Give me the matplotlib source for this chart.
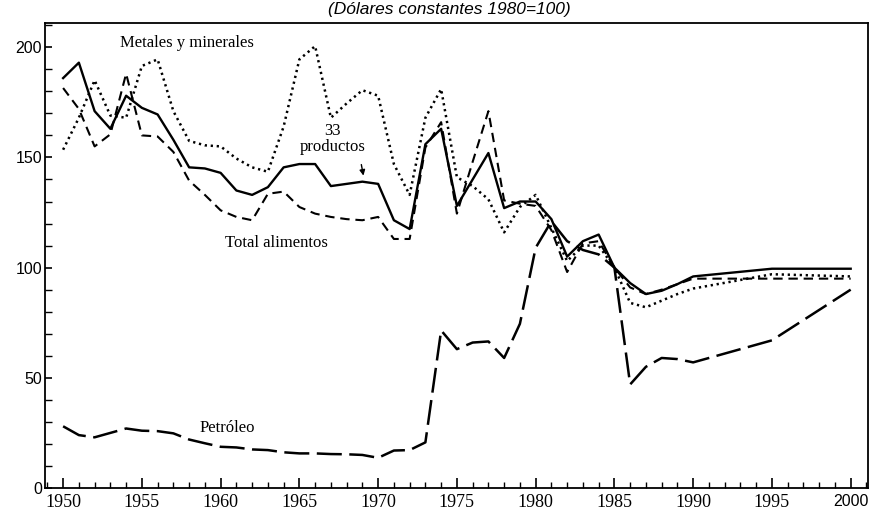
import matplotlib
matplotlib.use('Agg')
import matplotlib.pyplot as plt
from matplotlib.ticker import MultipleLocator

# precios reales de productos basicos (dolares constantes 1980=100)
anios = list(range(1950, 1991)) + [1995, 2000]

productos_33 = [186, 193, 171, 163, 178, 172.5, 169.5, 158, 145.5, 145,
                143, 135, 133, 136.5, 145.5, 147, 147, 137, 138, 139,
                138, 121.5, 117.5, 156, 163, 128, 140, 152, 127, 130,
                130, 122, 105, 112, 115, 100, 93, 88, 89.5, 92.5,
                96, 99.5, 99.5]

total_alimentos = [181.5, 172, 155, 160.5, 188, 160, 159.5, 152.5, 139.5, 133,
                   126, 123, 121.5, 133.5, 134.5, 127.5, 124.5, 123, 122, 121.5,
                   123, 113, 113, 154.5, 166, 124.5, 148, 171, 130.5, 129,
                   128, 117, 98, 111, 112, 100, 91, 88, 90, 92.5,
                   95, 95, 95]

metales = [153.5, 168, 185, 169, 168, 191.5, 194.5, 171, 157.5, 155.5,
           155, 149.5, 145.5, 143.5, 164, 194.5, 200.5, 168, 174.5, 180.5,
           178, 147, 133, 168, 181, 141, 137, 131, 116, 127.5,
           133, 118, 103, 110, 110, 100, 84, 82, 85, 88,
           90.5, 97, 96]

petroleo = [28, 24, 23, 25, 27, 26, 25.8, 24.8, 22, 20.3,
            18.7, 18.4, 17.5, 17.2, 16.2, 15.7, 15.7, 15.4, 15.3, 15,
            13.7, 17, 17.2, 20.7, 71.5, 63, 66, 66.5, 59, 74.5,
            109, 121, 112, 108, 106, 100, 47, 55, 59, 58.5,
            57, 67, 90]

y_ticks = [0, 50, 100, 150, 200]
x_ticks = [1950, 1955, 1960, 1965, 1970, 1975, 1980, 1985, 1990, 1995, 2000]

serif = 'Liberation Serif'
sans = 'Liberation Sans'

fig = plt.figure(figsize=(8.89, 5.12), dpi=100)
ax = fig.add_axes([45/889, 1-488/512, (868-45)/889, (488-23)/512])

ax.plot(anios, productos_33, color='black', lw=1.7, ls='-')
ax.plot(anios, total_alimentos, color='black', lw=1.5, ls=(0, (4.5, 2.8)))
ax.plot(anios, metales, color='black', lw=1.8, ls=(0, (0.9, 1.5)))
ax.plot(anios, petroleo, color='black', lw=1.8, ls=(0, (10, 3)))

ax.set_xlim(1948.85, 2001.1)
ax.set_ylim(0, 211)

ax.set_xticks(x_ticks)
ax.xaxis.set_minor_locator(MultipleLocator(1))
ax.set_yticks(y_ticks)
ax.yaxis.set_minor_locator(MultipleLocator(10))
ax.tick_params(axis='both', which='both', direction='in', top=False, right=False)
ax.tick_params(axis='x', which='major', length=7, width=1.2, pad=4)
ax.tick_params(axis='x', which='minor', length=4, width=1.0)
ax.tick_params(axis='y', which='major', length=5, width=1.2, pad=2)
ax.tick_params(axis='y', which='minor', length=5, width=1.0)

ax.set_xticklabels([str(t) for t in x_ticks])
for lab in ax.get_xticklabels():
    if lab.get_text() == '2000':
        lab.set_fontfamily(sans)
        lab.set_fontsize(11.5)
    else:
        lab.set_fontfamily(serif)
        lab.set_fontsize(13)
ax.set_yticklabels([str(t) for t in y_ticks], fontfamily=sans, fontsize=11.5)

for s in ax.spines.values():
    s.set_linewidth(1.3)

# rotulos de las series
ax.text(1957.85, 202, 'Metales y minerales', family=serif, fontsize=12,
        ha='center', va='center')
ax.text(1967.1, 158.5, '33\nproductos', family=serif, fontsize=12,
        ha='center', va='center', linespacing=1.0)
ax.annotate('', xy=(1969.1, 140.5), xytext=(1968.9, 148),
            arrowprops=dict(arrowstyle='-|>', color='black', lw=1.0,
                            mutation_scale=8))
ax.text(1963.55, 111, 'Total alimentos', family=serif, fontsize=12,
        ha='center', va='center')
ax.text(1960.4, 27.2, 'Petróleo', family=serif, fontsize=12,
        ha='center', va='center')

fig.text(0.505, 1-14/512, '(Dólares constantes 1980=100)', family=sans,
         style='italic', fontsize=12.5, ha='center', va='baseline')

fig.savefig('out.png', dpi=100)
